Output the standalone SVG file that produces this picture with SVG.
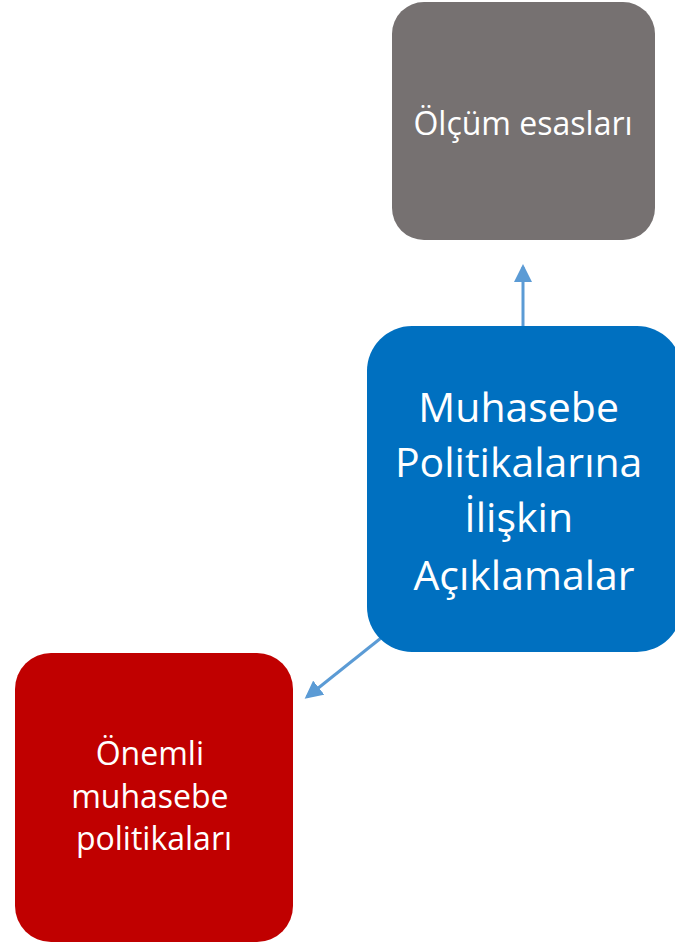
<svg xmlns="http://www.w3.org/2000/svg" width="675" height="944" viewBox="0 0 675 944">
<style>
.lbl{font-family:"Open Sans","Liberation Sans",sans-serif;fill:#fff;text-anchor:middle}
.conn{stroke:#5B9BD5;stroke-width:3;fill:none}
</style>
<defs>
<marker id="ah" markerWidth="6" markerHeight="6" refX="5" refY="3" orient="auto" markerUnits="strokeWidth">
<path d="M0,0 L6,3 L0,6 Z" fill="#5B9BD5"/>
</marker>
</defs>
<rect width="675" height="944" fill="#fff"/>
<g id="connectors">
<line class="conn" x1="523" y1="326" x2="523" y2="267" marker-end="url(#ah)"/>
<line class="conn" x1="381" y1="638" x2="307" y2="697" marker-end="url(#ah)"/>
</g>
<g id="olcum">
<rect x="392" y="2" width="263" height="238" rx="32" fill="#767171"/>
<text class="lbl" x="523" y="135" font-size="32">Ölçüm esasları</text>
</g>
<g id="muhasebe">
<rect x="367" y="326" width="315" height="326" rx="45" fill="#0070C0"/>
<text class="lbl" font-size="41">
<tspan x="524" y="422">Muhasebe</tspan>
<tspan x="524" y="477">Politikalarına</tspan>
<tspan x="524" y="532">İlişkin</tspan>
<tspan x="524" y="590">Açıklamalar</tspan>
</text>
</g>
<g id="onemli">
<rect x="15" y="653" width="278" height="289" rx="36" fill="#C00000"/>
<text class="lbl" font-size="32">
<tspan x="154" y="765">Önemli</tspan>
<tspan x="154" y="808">muhasebe</tspan>
<tspan x="154" y="850">politikaları</tspan>
</text>
</g>
</svg>
